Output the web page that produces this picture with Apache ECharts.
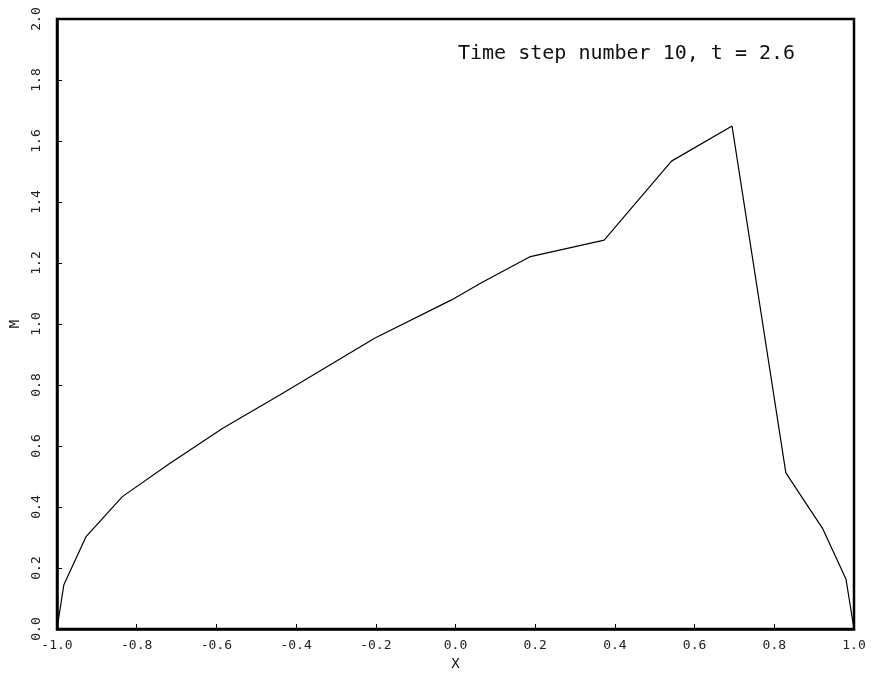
<!DOCTYPE html>
<html>
<head>
<meta charset="utf-8">
<script src="https://cdn.jsdelivr.net/npm/echarts@6/dist/echarts.min.js"></script>
<style>
  html, body { margin: 0; padding: 0; background: #fff; }
  #main { width: 878px; height: 677px; }
</style>
</head>
<body>
<div id="main"></div>
<script>
// 曲线数据 (x, M)
var xValues = [-1.0, -0.983, -0.927, -0.836, -0.72, -0.584, -0.441, -0.203, -0.01, 0.065, 0.188, 0.373, 0.542, 0.694, 0.829, 0.921, 0.980, 1.0];
var mValues = [0.0, 0.144, 0.303, 0.434, 0.54, 0.658, 0.767, 0.953, 1.079, 1.135, 1.221, 1.275, 1.534, 1.649, 0.512, 0.330, 0.163, 0.0];
var titleText = 'Time step number 10, t = 2.6';

var points = [];
for (let i = 0; i < xValues.length; i++) {
    points.push([xValues[i], mValues[i]]);
}

var labelFont = 'DejaVu Sans Mono';
var myChart = echarts.init(document.getElementById('main'));

var option = {
    backgroundColor: '#fff',
    animation: false,
    graphic: [{
        type: 'text',
        left: 458,
        top: 44,
        style: {
            text: titleText,
            font: '20px "DejaVu Sans Mono"',
            fill: '#111'
        }
    }],
    grid: {
        left: 57,
        right: 24,
        top: 19,
        bottom: 48,
        show: true,
        borderColor: '#000',
        borderWidth: 2.5
    },
    xAxis: {
        type: 'value',
        min: -1,
        max: 1,
        interval: 0.2,
        name: 'X',
        nameLocation: 'middle',
        nameGap: 26,
        nameTextStyle: { fontFamily: labelFont, fontSize: 14, color: '#111' },
        axisLine: { show: true, onZero: false, lineStyle: { color: '#000', width: 2.5 } },
        axisTick: { show: true, inside: true, length: 5, lineStyle: { color: '#000', width: 1 } },
        axisLabel: {
            margin: 10,
            fontFamily: labelFont,
            fontSize: 13,
            color: '#222',
            formatter: function (v) { return v.toFixed(1); }
        },
        splitLine: { show: false }
    },
    yAxis: {
        type: 'value',
        min: 0,
        max: 2,
        interval: 0.2,
        name: 'M',
        nameLocation: 'middle',
        nameGap: 19,
        nameRotate: 90,
        nameTextStyle: { fontFamily: labelFont, fontSize: 14, color: '#111' },
        axisLine: { show: true, onZero: false, lineStyle: { color: '#000', width: 2.5 } },
        axisTick: { show: true, inside: true, length: 5, lineStyle: { color: '#000', width: 1 } },
        axisLabel: {
            rotate: 90,
            margin: 14,
            fontFamily: labelFont,
            fontSize: 13,
            color: '#222',
            formatter: function (v) { return v.toFixed(1); }
        },
        splitLine: { show: false }
    },
    series: [{
        type: 'line',
        data: points,
        showSymbol: false,
        symbol: 'none',
        smooth: false,
        clip: true,
        lineStyle: { color: '#000', width: 1.2 }
    }]
};
myChart.setOption(option);
</script>
</body>
</html>
